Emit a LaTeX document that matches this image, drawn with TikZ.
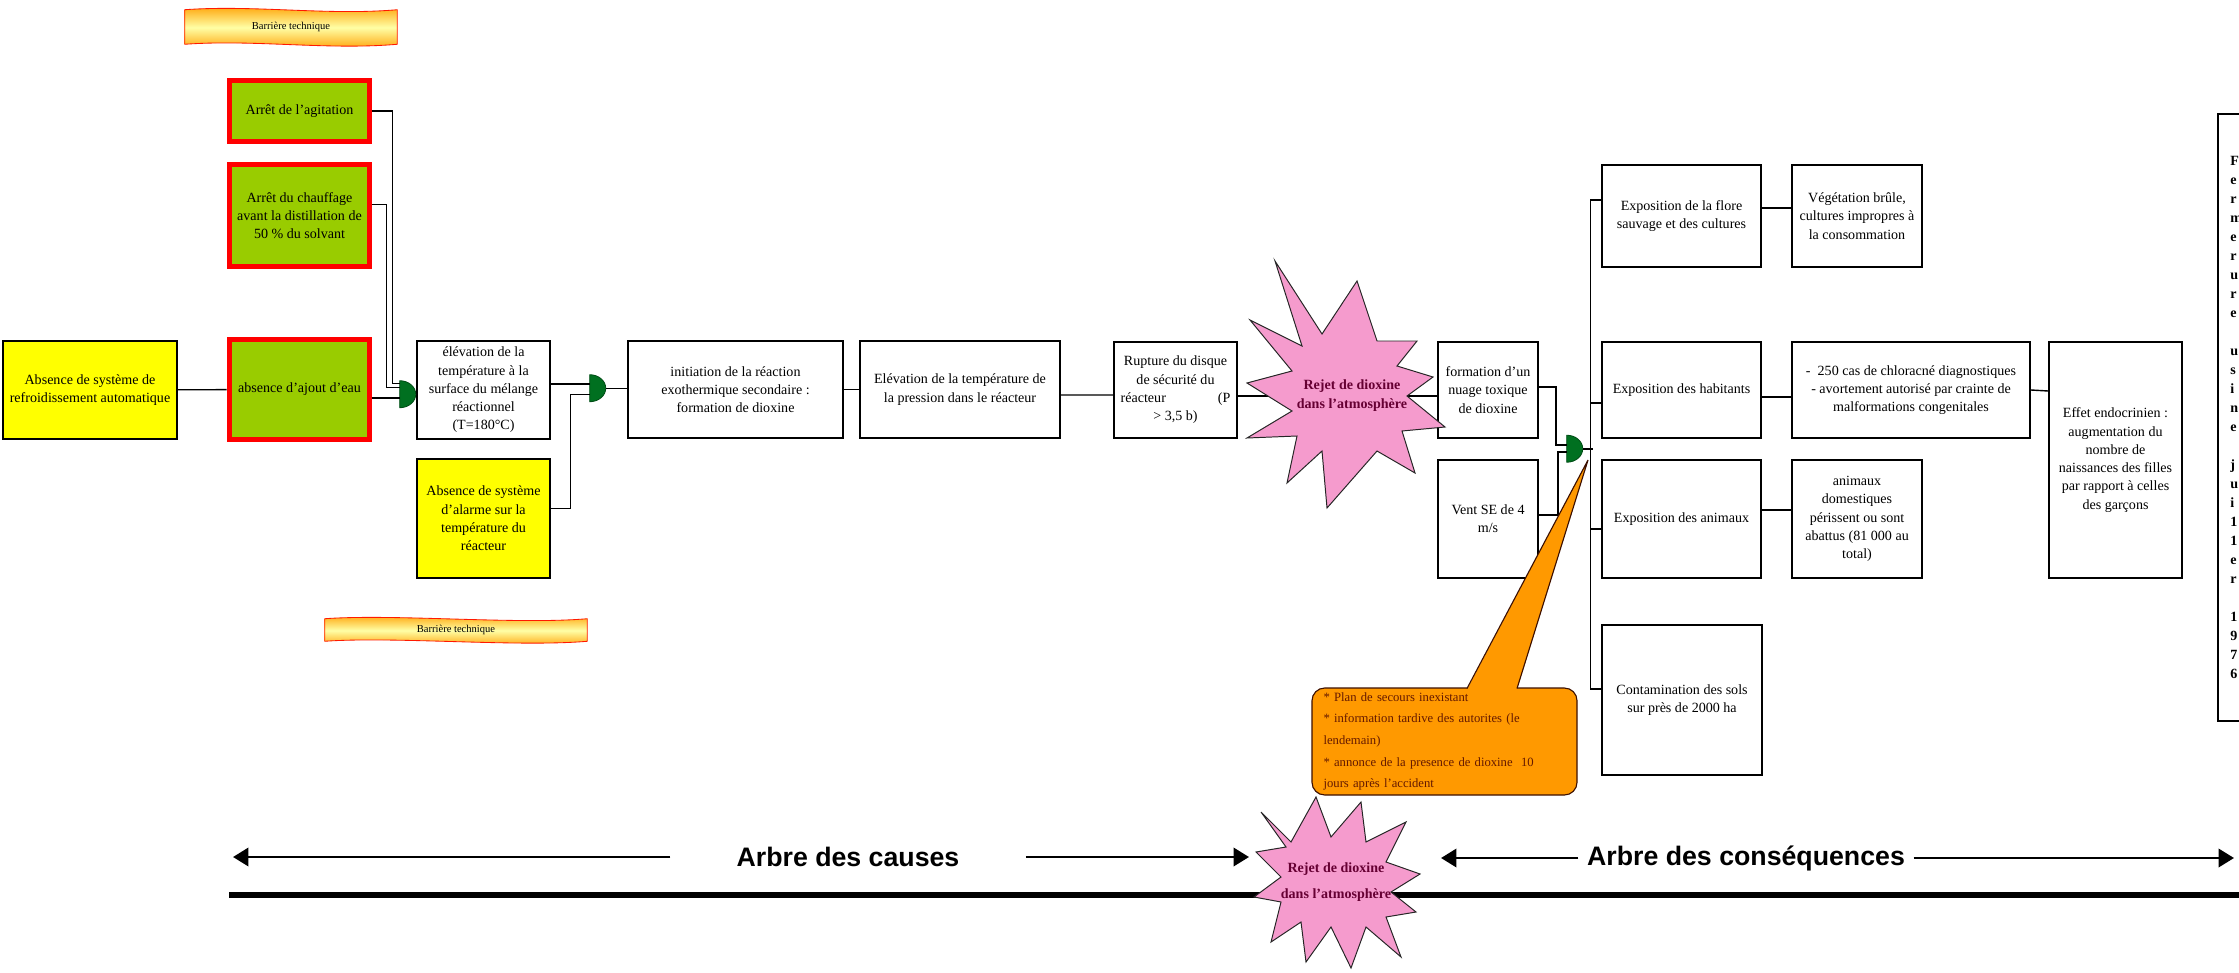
\documentclass[tikz,border=0pt]{standalone}
\usepackage{fontspec}
\setmainfont{Liberation Serif}
\newfontfamily\arbrefont{Liberation Sans}
\usetikzlibrary{arrows.meta,backgrounds}

\definecolor{jaunevif}{RGB}{255,255,0}
\definecolor{vertpomme}{RGB}{153,204,0}
\definecolor{vertporte}{RGB}{0,112,32}
\definecolor{rose}{RGB}{245,155,205}
\definecolor{bordeaux}{RGB}{102,0,51}
\definecolor{orangebulle}{RGB}{255,153,0}
\definecolor{brunbulle}{RGB}{100,25,0}

\begin{document}
\begin{tikzpicture}[x=0.025cm,y=-0.025cm,
    every node/.style={align=center,inner sep=3pt,font=\fontsize{10}{13}\selectfont},
    sz/.style 2 args={minimum width=#1*0.025cm,minimum height=#2*0.025cm},
    boite/.style={draw,line width=1.1pt,fill=white},
    causejaune/.style={boite,fill=jaunevif},
    barriere/.style={draw=red,line width=4pt,fill=vertpomme},
    porte/.style={sz={16}{27},inner sep=0},
    porte fond/.style={fill=vertporte,draw=vertporte!70!black,line width=0.6pt},
    ruban/.style={draw=red!80!orange,line width=0.6pt,top color=orange!75!yellow,bottom color=orange!75!yellow,middle color=yellow!35},
    ruban texte/.style={font=\fontsize{7.5}{9}\selectfont},
    etoile/.style={draw=black!85,line width=0.7pt,fill=rose},
    etoile texte/.style={text=bordeaux,font=\fontsize{10}{13.5}\selectfont\bfseries},
    bulle/.style={draw=brunbulle!60!black,line width=0.8pt,fill=orangebulle,rounded corners=9pt,
      text=brunbulle,align=left,text width=172pt,inner xsep=7.8pt,font=\fontsize{9}{15.4}\selectfont},
    lien/.style={line width=1pt},
    fleche/.style={line width=2pt,-{Triangle[length=11pt,width=13pt]}},
    arbre/.style={font=\arbrefont\bfseries\fontsize{19}{23}\selectfont}]
  \useasboundingbox (0,0) rectangle (2239,972);
  \clip (0,0) rectangle (2239,972);

  \coordinate (rejet) at (1352,396);
  \coordinate (rejetbas) at (1336,882);

  % barrieres techniques
  \node[ruban texte,sz={212}{34}] (banA) at (291,27) {Barrière technique};
  \node[ruban texte,sz={262}{22}] (banB) at (456,630) {Barrière technique};

  % arbre des causes
  \node[barriere,sz={140}{61}] (agitation) at (299.5,111) {Arrêt de l'agitation};
  \node[barriere,sz={140}{102}] (chauffage) at (299.5,215.5) {Arrêt du chauffage\\avant la distillation de\\50~\% du solvant};
  \node[barriere,sz={140}{100}] (eau) at (299.5,389.5) {absence d'ajout d'eau};
  \node[causejaune,sz={174}{98}] (refroid) at (90,390) {Absence de système de\\refroidissement automatique};
  \node[porte] (porteA) at (408,394.5) {};
  \node[boite,sz={133}{98}] (elevation) at (483.5,390) {élévation de la\\température à la\\surface du mélange\\réactionnel\\(T=180°C)};
  \node[causejaune,sz={133}{119}] (alarme) at (483.5,518.5) {Absence de système\\d'alarme sur la\\température du\\réacteur};
  \node[porte] (porteB) at (598,388.5) {};
  \node[boite,sz={215}{97}] (initiation) at (735.5,389.5) {initiation de la réaction\\exothermique secondaire :\\formation de dioxine};
  \node[boite,sz={200}{97}] (pression) at (960,389.5) {Elévation de la température de\\la pression dans le réacteur};
  \node[boite,sz={123}{96}] (rupture) at (1175.5,390) {Rupture du disque\\de sécurité du\\\makebox[78pt]{réacteur\hfill(P}\\> 3,5 b)};

  % arbre des consequences
  \node[boite,sz={100}{96}] (nuage) at (1488,390) {formation d'un\\nuage toxique\\de dioxine};
  \node[boite,sz={100}{118}] (vent) at (1488,519) {Vent SE de 4\\m/s};
  \node[porte] (porteC) at (1575,449) {};
  \node[boite,sz={159}{102}] (flore) at (1681.5,216) {Exposition de la flore\\sauvage et des cultures};
  \node[boite,sz={130}{102}] (vegetation) at (1857,216) {Végétation brûle,\\cultures impropres à\\la consommation};
  \node[boite,sz={159}{96}] (habitants) at (1681.5,390) {Exposition des habitants};
  \node[boite,sz={238}{96}] (chloracne) at (1911,390) {-\ \ 250 cas de chloracné diagnostiques\\- avortement autorisé par crainte de\\malformations congenitales};
  \node[boite,sz={159}{118}] (animaux) at (1681.5,519) {Exposition des animaux};
  \node[boite,sz={130}{118}] (abattus) at (1857,519) {animaux\\domestiques\\périssent ou sont\\abattus (81 000 au\\total)};
  \node[boite,sz={160}{150}] (sols) at (1682,700) {Contamination des sols\\sur près de 2000 ha};
  \node[boite,sz={133}{236}] (endocrinien) at (2115.5,460) {Effet endocrinien :\\augmentation du\\nombre de\\naissances des filles\\par rapport à celles\\des garçons};
  \node[boite,anchor=north west,sz={70}{607},text width=40pt,align=left,inner xsep=9pt,
    font=\fontsize{10}{13.5}\selectfont\bfseries] (fermeture) at (2217,113)
    {F\\e\\r\\m\\e\\r\\u\\r\\e\\[\baselineskip]u\\s\\i\\n\\e\\[\baselineskip]j\\u\\i\\1\\1\\e\\r\\[\baselineskip]1\\9\\7\\6};

  \begin{scope}[on background layer]
    \foreach \b in {banA,banB}
      \path[ruban] (\b.north west) .. controls +(70,-5) and +(-70,6) .. (\b.north east)
        -- (\b.south east) .. controls +(-70,6) and +(70,-5) .. (\b.south west) -- cycle;
  \end{scope}

  \foreach \p in {porteA,porteB,porteC}
    \filldraw[porte fond] (\p.north west) arc[start angle=90,end angle=-90,x radius=0.4cm,y radius=0.3375cm] -- cycle;

  \begin{scope}[lien]
    \draw (refroid) -- (eau);
    \draw (agitation.east) -- ++(20,0) |- ([shift={(0,-11)}]porteA.west);
    \draw ([shift={(0,-11)}]chauffage.east) -- ++(14,0) |- ([shift={(0,-7)}]porteA.west);
    \draw ([shift={(0,8.5)}]eau.east) -- ([shift={(0,3.5)}]porteA.west);
    \draw ([shift={(0,-6)}]elevation.east) -- ([shift={(0,-4.5)}]porteB.west);
    \draw ([shift={(0,-10)}]alarme.east) -- ++(20,0) |- ([shift={(0,6)}]porteB.west);
    \draw (porteB.east) -- ([shift={(0,-1)}]initiation.west);
    \draw (initiation) -- (pression);
    \draw ([shift={(0,5.5)}]pression.east) -- ([shift={(0,5)}]rupture.west);
    \draw ([shift={(0,6)}]rupture.east) -- (rejet);
    \draw (rejet) -- ([shift={(0,6)}]nuage.west);
    \draw ([shift={(0,-3)}]nuage.east) -- ++(17,0) |- ([shift={(0,-4)}]porteC.west);
    \draw ([shift={(0,-4)}]vent.east) -- ++(19,0) |- ([shift={(0,3)}]porteC.west);
    \draw (porteC.east) -- ++(10,0);
    \draw ([shift={(0,-16)}]flore.west) -| ([shift={(-11,-11)}]sols.west) -- ([shift={(0,-11)}]sols.west);
    \draw ([shift={(0,13)}]habitants.west) -- ++(-11,0);
    \draw ([shift={(0,10)}]animaux.west) -- ++(-11,0);
    \draw ([shift={(0,-8)}]flore.east) -- ([shift={(0,-8)}]vegetation.west);
    \draw ([shift={(0,7)}]habitants.east) -- ([shift={(0,7)}]chloracne.west);
    \draw (chloracne.east) -- ([shift={(0,-69)}]endocrinien.west);
    \draw ([shift={(0,-9)}]animaux.east) -- ([shift={(0,-9)}]abattus.west);
  \end{scope}

  % evenement redoute
  \filldraw[etoile,shift={(rejet)}] (-77,-135) -- (-30,-62) -- (5,-115) -- (25,-55) -- (65,-55)
    -- (45,-30) -- (81,-19) -- (55,0) -- (93,31) -- (50,35) -- (63,77) -- (25,55) -- (-25,112)
    -- (-30,55) -- (-65,87) -- (-55,40) -- (-105,42) -- (-60,15) -- (-105,-13) -- (-60,-25)
    -- (-102,-76) -- (-50,-50) -- cycle;
  \node[etoile texte] (rejetT) at (rejet) {Rejet de dioxine\\dans l'atmosphère};

  % bulle
  \node[bulle,sz={265}{107}] (bulle) at (1444.5,741.5) {* Plan de secours inexistant\\{}* information tardive des autorites (le\\lendemain)\\{}* annonce de la presence de dioxine\ \ 10\\jours après l'accident};
  \coordinate (pointe) at (1588,460);
  \fill[orangebulle] ([shift={(22.5,2)}]bulle.north) -- (pointe) -- ([shift={(72.5,2)}]bulle.north) -- cycle;
  \draw[draw=brunbulle!60!black,line width=0.8pt] ([shift={(22.5,1)}]bulle.north) -- (pointe) -- ([shift={(72.5,1)}]bulle.north);

  % bas de page
  \coordinate (causeG) at (233,857);
  \coordinate (causeD) at (1249,857);
  \coordinate (consG) at (1441,858);
  \coordinate (consD) at (2234,858);
  \coordinate (socleG) at (229,895);
  \coordinate (socleD) at (2239,895);
  \node[arbre,inner xsep=47pt] (causes) at (848,857) {Arbre des causes};
  \node[arbre,inner xsep=6pt] (consequences) at (1746,858) {Arbre des conséquences};
  \draw[fleche] (causes) -- (causeG);
  \draw[fleche] (causes) -- (causeD);
  \draw[fleche] (consequences) -- (consG);
  \draw[fleche] (consequences) -- (consD);
  \draw[line width=4.5pt] (socleG) -- (socleD);
  \filldraw[etoile,shift={(rejetbas)}] (-75,-70) -- (-45,-40) -- (-20,-85) -- (-5,-45) -- (25,-80)
    -- (30,-40) -- (70,-60) -- (50,-20) -- (84,-8) -- (55,10) -- (80,30) -- (50,35) -- (65,75)
    -- (30,45) -- (15,86) -- (-5,45) -- (-30,80) -- (-35,40) -- (-65,60) -- (-55,20) -- (-82,15)
    -- (-55,-5) -- (-80,-30) -- (-50,-35) -- cycle;
  \node[etoile texte,font=\fontsize{10}{19}\selectfont\bfseries] (rejetbasT) at (rejetbas) {Rejet de dioxine\\dans l'atmosphère};
\end{tikzpicture}
\end{document}
